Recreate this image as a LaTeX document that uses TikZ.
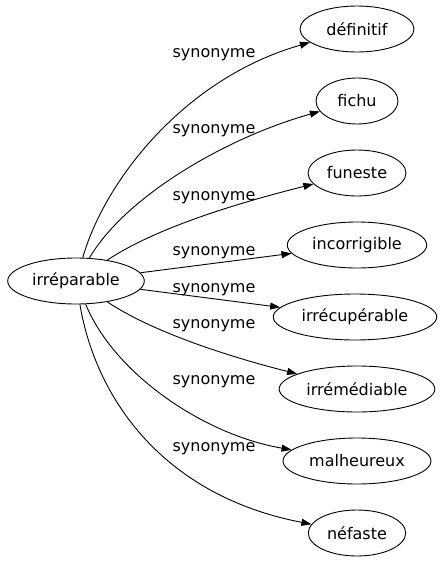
\documentclass[tikz,border=0pt]{standalone}
\usepackage{fontspec}
\setmainfont{DejaVu Sans}
\usetikzlibrary{arrows.meta,shapes.geometric}

\begin{document}
\begin{tikzpicture}[x=1pt, y=-1pt, >={Triangle[length=10pt,width=7pt]},
	every node/.style={font=\fontsize{16}{19}\selectfont},
	word/.style={draw, ellipse, line width=0.9pt, inner xsep=4.5pt, minimum width=82pt, minimum height=46pt},
	link/.style={->, line width=0.9pt},
	rel/.style={inner sep=1pt}]
	
	% parameters
	\def\colx{357}     % x of the synonym column
	\def\labx{214}     % x of the edge labels
	
	\useasboundingbox (0,0) rectangle (447,563);
	
	% source word
	\node[word] (irreparable) at (76,281) {irréparable};
	
	% synonyms
	\node[word, minimum width=114pt] (definitif) at (\colx,29) {définitif};
	\node[word] (fichu) at (\colx,101) {fichu};
	\node[word] (funeste) at (\colx,173) {funeste};
	\node[word] (incorrigible) at (\colx,245) {incorrigible};
	\node[word] (irrecuperable) at (\colx-2,317) {irrécupérable};
	\node[word] (irremediable) at (\colx,389) {irrémédiable};
	\node[word] (malheureux) at (\colx,461) {malheureux};
	\node[word] (nefaste) at (\colx,533) {néfaste};
	
	% edges
	\draw[link] (irreparable) .. controls (105,180) and (185,78) .. (definitif);
	\draw[link] (irreparable) .. controls (125,197) and (225,138) .. (fichu);
	\draw[link] (irreparable) .. controls (160,225) and (250,200) .. (funeste);
	\draw[link] (irreparable) -- (incorrigible);
	\draw[link] (irreparable) -- (irrecuperable);
	\draw[link] (irreparable) .. controls (160,337) and (250,362) .. (irremediable);
	\draw[link] (irreparable) .. controls (115,375) and (205,435) .. (malheureux);
	\draw[link] (irreparable) .. controls (95,395) and (160,495) .. (nefaste);
	
	% edge labels
	\node[rel] (l1) at (\labx,55) {synonyme};
	\node[rel] (l2) at (\labx,131) {synonyme};
	\node[rel] (l3) at (\labx,198) {synonyme};
	\node[rel] (l4) at (\labx,253) {synonyme};
	\node[rel] (l5) at (\labx,290) {synonyme};
	\node[rel] (l6) at (\labx,326) {synonyme};
	\node[rel] (l7) at (\labx,382) {synonyme};
	\node[rel] (l8) at (\labx,449) {synonyme};
\end{tikzpicture}
\end{document}
